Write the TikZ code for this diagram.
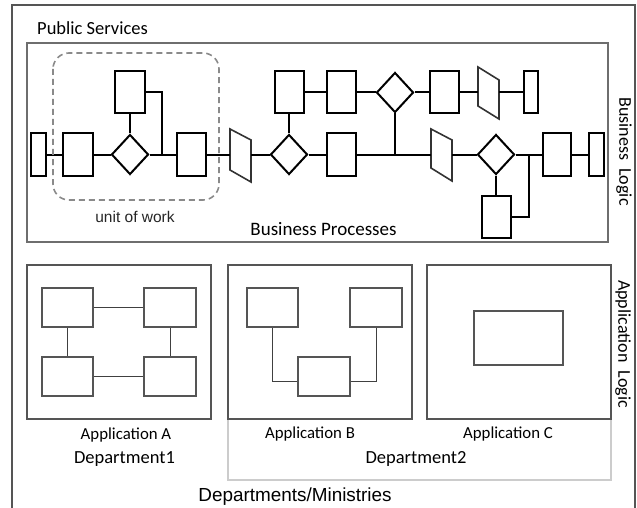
\documentclass[tikz,border=0pt]{standalone}
\usepackage{fontspec}
\setmainfont{Carlito}
\newfontfamily\arialf{Liberation Sans}
\usetikzlibrary{shapes.geometric,calc}
\definecolor{frame}{HTML}{555555}
\definecolor{bbox}{HTML}{6E6E6E}
\definecolor{lgray}{HTML}{CCCCCC}
\definecolor{dash}{HTML}{8A8A8A}
\begin{document}
\begin{tikzpicture}[x=1pt,y=-1pt,
  blk/.style={draw=black,line width=2pt,fill=white,inner sep=0pt,minimum height=42pt,minimum width=29pt},
  slim/.style={blk,minimum width=14pt},
  dia/.style={diamond,draw=black,line width=2pt,fill=white,inner sep=0pt,minimum width=37pt,minimum height=40pt},
  trap/.style={draw=black!80,line width=1.6pt,fill=white,line join=miter},
  conn/.style={draw=black,line width=2pt},
  appbox/.style={draw=frame,line width=2pt},
  inbox/.style={draw=frame,line width=2pt,fill=white,inner sep=0pt,minimum width=51pt,minimum height=39pt},
  thin/.style={draw=black!75,line width=1pt},
  lab/.style={inner sep=0pt,font=\fontsize{18.5}{20}\selectfont},
  applab/.style={inner sep=0pt,font=\fontsize{16.8}{18}\selectfont},
]
\useasboundingbox (0,0) rectangle (637,508);
\fill[white] (0,0) rectangle (637,508);

% outer frame
\draw[draw=frame,line width=2pt] (12,508) -- (12,5) -- (635,5) -- (635,508);
\node[lab,anchor=west] (pubs) at (37,28) {Public Services};

% business box
\draw[draw=bbox,line width=1.6pt] (27,43) rectangle (608,242);
\node[lab,font=\fontsize{19}{21}\selectfont] (bproc) at (323.5,229) {Business Processes};
\node[lab,rotate=-90,font=\fontsize{18}{20}\selectfont] (blogic) at (624,151.5) {Business\ \ Logic};
\node[lab,rotate=-90,font=\fontsize{18}{20}\selectfont] (alogic) at (623,344) {Application\ \ Logic};

% ---- process shapes
\node[slim,minimum width=15pt] (s1) at (38.5,154.5) {};
\node[blk,minimum width=30pt] (r1) at (78,154.5) {};
\node[dia] (d1) at (130,154.5) {};
\node[blk,minimum width=30pt] (ru1) at (130,92) {};
\node[blk] (r2) at (191.5,154.5) {};
\coordinate (j1) at (162,154.5);
\draw[trap] (230,129) -- (251,140) -- (251,182) -- (230,170) -- cycle;
\coordinate (t1w) at (230,154.5);
\coordinate (t1e) at (251,154.5);
\node[dia] (d2) at (289,154.5) {};
\node[blk] (ru2) at (289,92.5) {};
\node[blk] (r3) at (341.5,92.5) {};
\node[dia] (d3) at (395,92.5) {};
\node[blk] (r4) at (444.5,92.5) {};
\draw[trap] (478,67) -- (499,80) -- (499,119) -- (478,106) -- cycle;
\coordinate (t2w) at (478,92.5);
\coordinate (t2e) at (499,92.5);
\node[slim] (s2) at (531,92.5) {};
\node[blk] (r5) at (341.5,154.5) {};
\coordinate (j2) at (395,154.5);
\draw[trap] (431,129) -- (452,140) -- (452,181) -- (431,168) -- cycle;
\coordinate (t3w) at (431,154.5);
\coordinate (t3e) at (452,154.5);
\node[dia] (d4) at (496,154.5) {};
\node[blk] (rb) at (496,217) {};
\coordinate (j3) at (529,154.5);
\node[blk,minimum width=28pt] (r6) at (557,154.5) {};
\node[slim,minimum width=15pt] (s3) at (596.5,154.5) {};

% connectors
\draw[conn] (s1.east) -- (r1.west);
\draw[conn] (r1.east) -- (d1.west);
\draw[conn] (d1.east) -- (j1) -- (r2.west);
\draw[conn] (ru1.south) -- (d1.north);
\draw[conn] (ru1.east) -| (j1);
\draw[conn] (r2.east) -- (t1w);
\draw[conn] (t1e) -- (d2.west);
\draw[conn] (ru2.south) -- (d2.north);
\draw[conn] (d2.east) -- (r5.west);
\draw[conn] (ru2.east) -- (r3.west);
\draw[conn] (r3.east) -- (d3.west);
\draw[conn] (d3.east) -- (r4.west);
\draw[conn] (r4.east) -- (t2w);
\draw[conn] (t2e) -- (s2.west);
\draw[conn] (d3.south) -- (j2);
\draw[conn] (r5.east) -- (j2) -- (t3w);
\draw[conn] (t3e) -- (d4.west);
\draw[conn] (d4.east) -- (j3) -- (r6.west);
\draw[conn] (d4.south) -- (rb.north);
\draw[conn] (rb.east) -| (j3);
\draw[conn] (r6.east) -- (s3.west);

% unit of work
\draw[draw=dash,line width=1.6pt,dash pattern=on 6pt off 4pt,rounded corners=16pt] (53,53) rectangle (219,200);
\node[inner sep=0pt,font=\arialf\fontsize{15.5}{17}\selectfont,text=black!85] (uow) at (135,217) {unit of work};

% ---- applications
\draw[draw=lgray,line width=1.2pt] (228,419) -- (228,480) -- (611,480) -- (611,419);

\draw[appbox] (27,265) rectangle (211,419);
\node[inbox] (a1) at (67.5,307.5) {};
\node[inbox,minimum width=52pt] (a2) at (170,307.5) {};
\node[inbox] (a3) at (67.5,376.5) {};
\node[inbox,minimum width=52pt] (a4) at (170,376.5) {};
\draw[thin] (a1.east) -- (a2.west);
\draw[thin] (a3.east) -- (a4.west);
\draw[thin] (a1.south) -- (a3.north);
\draw[thin] (a2.south) -- (a4.north);

\draw[appbox] (228,265) rectangle (412,419);
\node[inbox] (b1) at (272.5,307.5) {};
\node[inbox,minimum width=52pt] (b2) at (376,307.5) {};
\node[inbox,minimum width=52pt] (b3) at (324,376.5) {};
\draw[thin] (b1.south) |- ($(b3.west)+(0,4.5)$);
\draw[thin] (b2.south) |- ($(b3.east)+(0,4.5)$);

\draw[appbox] (427,265) rectangle (611,419);
\node[inbox,minimum width=89pt,minimum height=54pt] (c1) at (518.5,338) {};

\node[applab] (appA) at (126,435) {Application A};
\node[applab] (appB) at (310,434) {Application B};
\node[applab] (appC) at (508,434) {Application C};
\node[lab] (dep1) at (124.5,459) {Department1};
\node[lab] (dep2) at (416,459) {Department2};
\node[inner sep=0pt,font=\arialf\fontsize{18.9}{21}\selectfont] (deps) at (295,497) {Departments/Ministries};
\end{tikzpicture}
\end{document}
